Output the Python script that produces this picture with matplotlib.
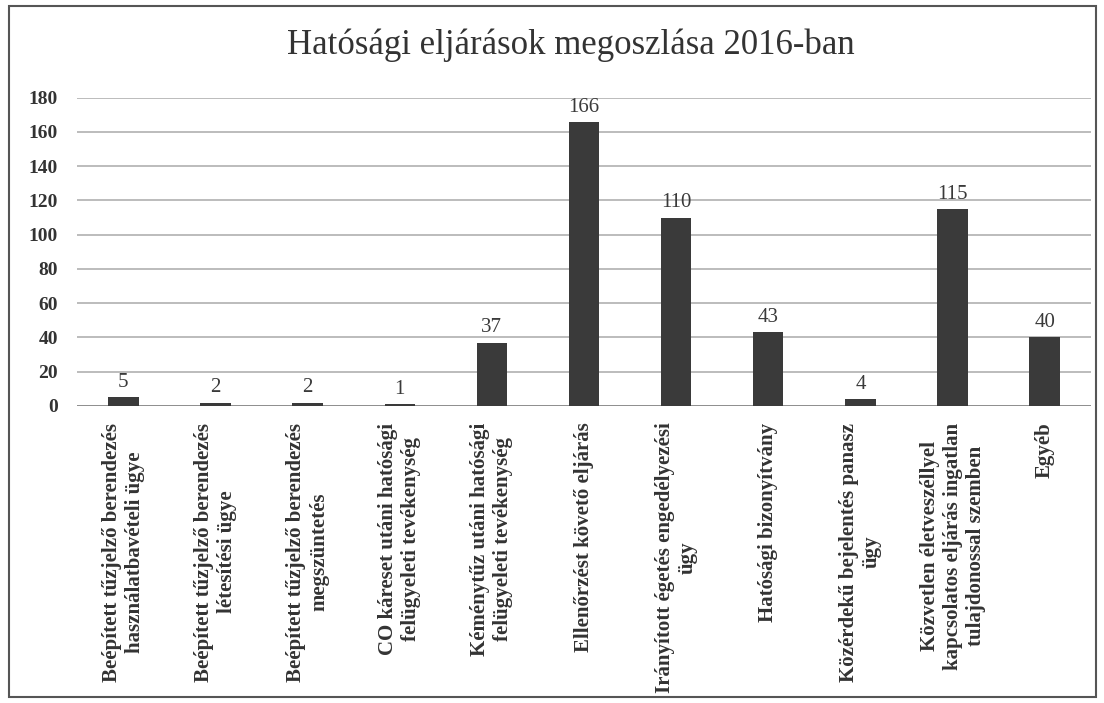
import matplotlib
matplotlib.use("Agg")
import matplotlib.pyplot as plt
from matplotlib.patches import Rectangle

categories = [
    "Beépített tűzjelző berendezés\nhasználatbavételi ügye",
    "Beépített tűzjelző berendezés\nlétesítési ügye",
    "Beépített tűzjelző berendezés\nmegszüntetés",
    "CO káreset utáni hatósági\nfelügyeleti tevékenység",
    "Kéménytűz utáni hatósági\nfelügyeleti tevékenység",
    "Ellenőrzést követő eljárás",
    "Irányított égetés engedélyezési\nügy",
    "Hatósági bizonyítvány",
    "Közérdekű bejelentés panasz\nügy",
    "Közvetlen életveszéllyel\nkapcsolatos eljárás ingatlan\ntulajdonossal szemben",
    "Egyéb",
]
values = [5, 2, 2, 1, 37, 166, 110, 43, 4, 115, 40]
yticks = [0, 20, 40, 60, 80, 100, 120, 140, 160, 180]
title = "Hatósági eljárások megoszlása 2016-ban"

plt.rcParams['font.family'] = ['Liberation Serif', 'DejaVu Serif']

fig = plt.figure(figsize=(11.04, 7.03), dpi=100)
ax = fig.add_axes([0.070, 0.4225, 0.918, 0.4385])

x = list(range(len(categories)))
ax.bar(x, values, width=0.33, color='#3a3a3a', zorder=3)
for xi, v in zip(x, values):
    ax.text(xi, v + 3, str(v), ha='center', va='bottom', fontsize=15,
            color='#3a3a3a', zorder=4)

ax.set_xlim(-0.5, len(categories) - 0.5)
ax.set_ylim(0, 180)
ax.set_yticks(yticks)
ax.set_yticklabels([str(t) for t in yticks], fontsize=14, fontweight='bold', color='#333333')
ax.set_xticks(x)
ax.set_xticklabels(categories, rotation=90, fontsize=15, fontweight='bold',
                   color='#333333', ha='center', va='top', multialignment='center',
                   linespacing=1.2)
ax.tick_params(axis='y', length=0, pad=14)
ax.tick_params(axis='x', length=0, pad=12)
ax.grid(axis='y', color='#b0b0b0', linewidth=1.2, zorder=0)
for s in ax.spines.values():
    s.set_visible(False)
ax.axhline(0, color='#888888', linewidth=1.2, zorder=2)

fig.text(0.517, 0.935, title, ha='center', va='center', fontsize=25, color='#333333')

fig.patches.append(Rectangle((0.008, 0.008), 0.985, 0.984, transform=fig.transFigure,
                             fill=False, edgecolor='#555555', linewidth=1.5))

fig.savefig("out.png", dpi=100)
